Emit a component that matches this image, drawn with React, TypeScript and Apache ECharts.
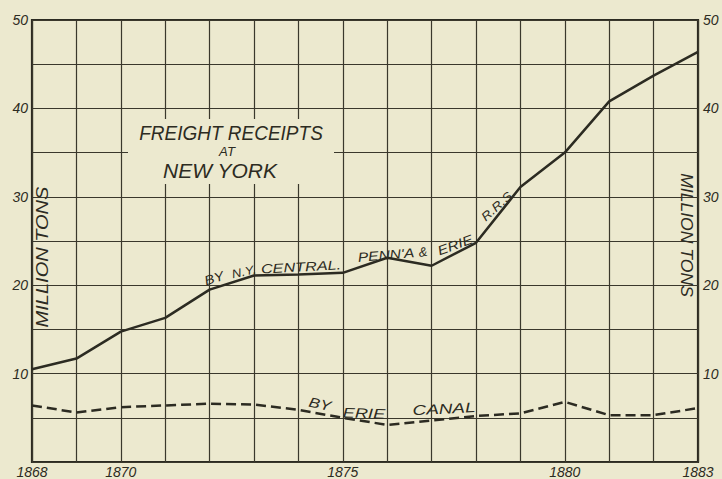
import React, { useEffect, useRef } from "react";
import * as echarts from "echarts";

const years = [1868, 1869, 1870, 1871, 1872, 1873, 1874, 1875, 1876, 1877, 1878, 1879, 1880, 1881, 1882, 1883];
const railroads = [10.5, 11.7, 14.75, 16.3, 19.5, 21.1, 21.2, 21.4, 23.1, 22.2, 24.8, 31.1, 35.0, 40.8, 43.7, 46.4];
const canal = [6.4, 5.6, 6.2, 6.4, 6.6, 6.5, 5.9, 5.0, 4.2, 4.7, 5.2, 5.5, 6.8, 5.3, 5.3, 6.1];
const xTickLabels = [1868, 1870, 1875, 1880, 1883];
const yTickLabels = [10, 20, 30, 40, 50];

const BG = "#ece9cf";
const INK = "#2c2b22";
const FONT = "'Liberation Sans', Arial, sans-serif";

function label(text: string, x: number, y: number, size: number, rot: number, sx = 1) {
  return {
    type: "text",
    x,
    y,
    rotation: rot,
    scaleX: sx,
    z: 20,
    style: {
      text,
      fill: INK,
      font: `italic ${size}px ${FONT}`,
      align: "center",
      verticalAlign: "middle",
    },
  };
}

export default function App() {
  const ref = useRef<HTMLDivElement>(null);
  useEffect(() => {
    if (!ref.current) return;
    const chart = echarts.init(ref.current, undefined, { renderer: "svg" });
    const axisLabelStyle = {
      fontStyle: "italic",
      fontFamily: FONT,
      fontSize: 14,
      color: INK,
    };
    const deg = Math.PI / 180;
    chart.setOption({
      animation: false,
      backgroundColor: BG,
      grid: {
        left: 32,
        right: 24,
        top: 20,
        bottom: 15,
        show: true,
        borderColor: INK,
        borderWidth: 2.2,
        backgroundColor: "transparent",
      },
      xAxis: {
        type: "value",
        min: 1868,
        max: 1883,
        interval: 1,
        axisLine: { show: false },
        axisTick: { show: false },
        splitLine: { show: true, lineStyle: { color: "#3a382c", width: 1.2 } },
        axisLabel: {
          ...axisLabelStyle,
          margin: 3,
          showMinLabel: true,
          showMaxLabel: true,
          formatter: (v: number) => (xTickLabels.includes(v) ? String(v) : ""),
        },
      },
      yAxis: [
        {
          type: "value",
          min: 0,
          max: 50,
          interval: 5,
          position: "left",
          axisLine: { show: false },
          axisTick: { show: false },
          splitLine: { show: true, lineStyle: { color: "#3a382c", width: 1.2 } },
          axisLabel: {
            ...axisLabelStyle,
            margin: 4,
            formatter: (v: number) => (yTickLabels.includes(v) ? String(v) : ""),
          },
        },
        {
          type: "value",
          min: 0,
          max: 50,
          interval: 5,
          position: "right",
          axisLine: { show: false },
          axisTick: { show: false },
          splitLine: { show: false },
          axisLabel: {
            ...axisLabelStyle,
            margin: 5,
            formatter: (v: number) => (yTickLabels.includes(v) ? String(v) : ""),
          },
        },
      ],
      series: [
        {
          name: "By N.Y. Central, Penn'a & Erie R.R.s",
          type: "line",
          data: years.map((y, i) => [y, railroads[i]]),
          showSymbol: false,
          lineStyle: { color: INK, width: 2.5 },
          z: 5,
        },
        {
          name: "By Erie Canal",
          type: "line",
          data: years.map((y, i) => [y, canal[i]]),
          showSymbol: false,
          lineStyle: { color: INK, width: 2.5, type: [10, 5] },
          z: 5,
        },
      ],
      graphic: [
        {
          type: "rect",
          z: 10,
          shape: { x: 128, y: 119, width: 206, height: 65 },
          style: { fill: BG },
        },
        label("FREIGHT RECEIPTS", 231, 133, 20, 0, 0.95),
        label("AT", 227, 152, 12, 0, 1.1),
        label("NEW YORK", 220, 171, 20, 0, 1.05),
        label("MILLION TONS", 43, 257, 16, 90 * deg, 1.25),
        label("MILLION TONS", 686, 235, 16, -90 * deg, 1.1),
        label("BY", 214, 278, 13, 18 * deg, 1.15),
        label("N.Y.", 244, 272, 12, 12 * deg, 1.1),
        label("CENTRAL.", 301, 267, 13, 3 * deg, 1.25),
        label("PENN'A", 386, 255, 13, 5 * deg, 1.2),
        label("&", 423, 252, 13, 8 * deg, 1),
        label("ERIE", 455, 245, 13, 20 * deg, 1.2),
        label("R.R.S.", 498, 205, 12, 42 * deg, 1.15),
        label("BY", 320, 404, 14, -12 * deg, 1.2),
        label("ERIE", 364, 413, 14, -2 * deg, 1.3),
        label("CANAL", 444, 409, 14, 3 * deg, 1.35),
      ],
    });
    return () => chart.dispose();
  }, []);
  return (
    <div
      ref={ref}
      style={{ position: "fixed", left: 0, top: 0, width: 722, height: 479 }}
    />
  );
}
